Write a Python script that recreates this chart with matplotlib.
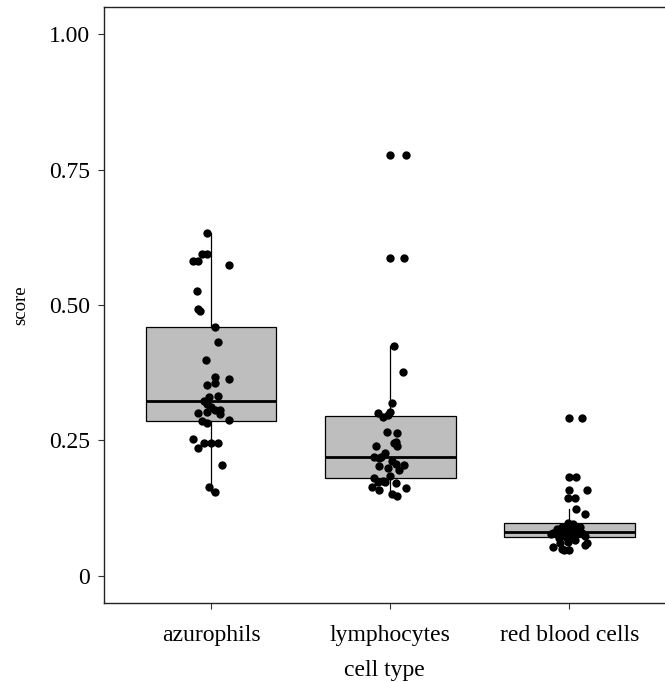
import numpy as np
import matplotlib
matplotlib.use("Agg")
import matplotlib.pyplot as plt

plt.rcParams['font.family'] = ['Liberation Serif', 'DejaVu Serif']

# categories
cell_types = ["azurophils", "lymphocytes", "red blood cells"]

# scores, with horizontal jitter (category units)
azur_score = [0.633, 0.595, 0.595, 0.581, 0.581, 0.574, 0.526, 0.492, 0.489, 0.460,
              0.431, 0.399, 0.368, 0.363, 0.357, 0.352, 0.331, 0.332, 0.322, 0.317,
              0.312, 0.306, 0.303, 0.306, 0.300, 0.299, 0.288, 0.286, 0.283, 0.252,
              0.246, 0.246, 0.246, 0.237, 0.205, 0.164, 0.154]
azur_jit = [-0.02, -0.05, -0.02, -0.10, -0.07, 0.10, -0.08, -0.07, -0.06, 0.02,
            0.04, -0.03, 0.02, 0.10, 0.02, -0.02, -0.01, 0.04, -0.04, -0.02,
            0.00, 0.02, -0.02, 0.05, -0.07, 0.05, 0.10, -0.05, -0.02, -0.10,
            -0.04, 0.00, 0.04, -0.07, 0.06, -0.01, 0.02]

lymph_score = [0.777, 0.777, 0.587, 0.587, 0.425, 0.377, 0.320, 0.303, 0.300, 0.297,
               0.293, 0.266, 0.264, 0.248, 0.240, 0.245, 0.240, 0.226, 0.220, 0.220,
               0.203, 0.199, 0.207, 0.205, 0.196, 0.180, 0.174, 0.174, 0.165, 0.159,
               0.171, 0.163, 0.151, 0.148, 0.176, 0.185, 0.212, 0.218]
lymph_jit = [0.00, 0.09, 0.00, 0.08, 0.02, 0.07, 0.01, 0.00, -0.07, -0.01,
             -0.04, -0.02, 0.04, 0.03, -0.08, 0.02, 0.04, -0.03, -0.05, -0.09,
             -0.06, -0.01, 0.03, 0.08, 0.05, -0.09, -0.07, -0.03, -0.10, -0.06,
             0.03, 0.09, 0.01, 0.04, -0.04, 0.00, 0.01, -0.06]

rbc_score = [0.291, 0.291, 0.182, 0.182, 0.159, 0.159, 0.143, 0.143, 0.123, 0.114,
             0.097, 0.096, 0.091, 0.086, 0.088, 0.088, 0.080, 0.080, 0.079, 0.076,
             0.077, 0.073, 0.073, 0.070, 0.066, 0.063, 0.061, 0.060, 0.057, 0.054,
             0.049, 0.048, 0.048, 0.072, 0.075, 0.078, 0.081, 0.082, 0.084, 0.085,
             0.090]
rbc_jit = [0.00, 0.07, 0.00, 0.04, 0.00, 0.10, -0.01, 0.03, 0.04, 0.09,
           -0.01, 0.02, -0.04, -0.07, -0.01, 0.05, -0.09, 0.07, 0.05, -0.03,
           -0.10, 0.01, 0.09, -0.06, 0.03, -0.01, 0.10, -0.05, 0.09, -0.09,
           -0.04, 0.00, -0.03, -0.02, 0.02, -0.05, 0.01, 0.04, -0.03, 0.03,
           0.06]

y_ticks = [0, 0.25, 0.50, 0.75, 1.00]
y_tick_labels = ["0", "0.25", "0.50", "0.75", "1.00"]

scores = [azur_score, lymph_score, rbc_score]
jitters = [azur_jit, lymph_jit, rbc_jit]
pos = np.arange(1, len(cell_types) + 1)

fig = plt.figure(figsize=(6.65, 6.82), dpi=100)
ax = fig.add_axes([0.1564, 0.1158, 0.8436, 0.8739])

ax.boxplot(scores, positions=pos, widths=0.73, patch_artist=True,
           showfliers=False, showcaps=False,
           boxprops=dict(facecolor="#bebebe", edgecolor="black", linewidth=0.9),
           medianprops=dict(color="black", linewidth=2.0),
           whiskerprops=dict(color="black", linewidth=0.9),
           zorder=2)

for p, s, j in zip(pos, scores, jitters):
    ax.scatter(p + np.array(j), s, s=36, color="black", linewidths=0, zorder=3)

ax.set_xlim(0.403, 3.534)
ax.set_ylim(-0.05, 1.05)
ax.set_xticks(pos)
ax.set_xticklabels(cell_types, fontsize=17)
ax.set_yticks(y_ticks)
ax.set_yticklabels(y_tick_labels, fontsize=17)
ax.tick_params(axis="x", direction="out", length=4, width=0.8, color="#333333", pad=12)
ax.tick_params(axis="y", direction="out", length=4, width=0.8, color="#333333", pad=6)
ax.set_xlabel("cell type", fontsize=17, labelpad=10)
ax.set_ylabel("score", fontsize=13.5, labelpad=14)

ax.spines["right"].set_visible(False)
for side in ["left", "bottom", "top"]:
    ax.spines[side].set_linewidth(1.0)
    ax.spines[side].set_color("#222222")

fig.savefig("out.png", dpi=100)
